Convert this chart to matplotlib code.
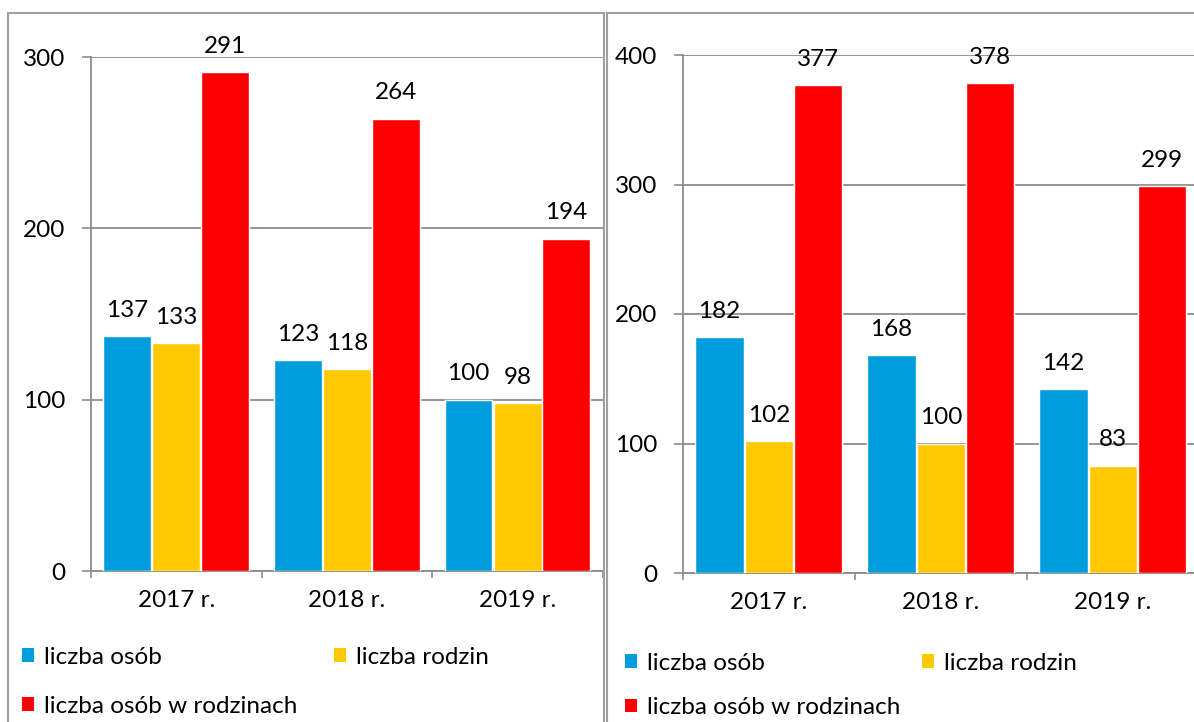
import matplotlib
matplotlib.use("Agg")
import matplotlib.pyplot as plt
from matplotlib.lines import Line2D
from matplotlib.patches import Patch
import numpy as np

plt.rcParams['font.family'] = ['Lato', 'DejaVu Sans']

# data
years = ['2017 r.', '2018 r.', '2019 r.']
series_names = ['liczba osób', 'liczba rodzin', 'liczba osób w rodzinach']
colors = ['#009ddc', '#ffc800', '#ff0000']

left_osob = [137, 123, 100]
left_rodzin = [133, 118, 98]
left_w_rodzinach = [291, 264, 194]

right_osob = [182, 168, 142]
right_rodzin = [102, 100, 83]
right_w_rodzinach = [377, 378, 299]

W, H = 1194, 722
fig = plt.figure(figsize=(W / 100, H / 100), dpi=100)

def px(x0, y0, x1, y1):
    # pixel box (top-left origin) -> figure fraction rect
    return [x0 / W, 1 - y1 / H, (x1 - x0) / W, (y1 - y0) / H]

GRID = '#8c8c8c'
FS = 17.5

def panel(rect, series, ymax):
    ax = fig.add_axes(rect)
    x = np.arange(len(years)) + 0.5
    offs = [-0.288, 0.0, 0.285]
    for vals, c, o in zip(series, colors, offs):
        b = ax.bar(x + o, vals, width=0.28, color=c, edgecolor='white',
                   linewidth=1.0, zorder=3)
        ax.bar_label(b, padding=11, fontsize=FS)
    ax.set_xlim(0, 3)
    ax.set_ylim(0, ymax)
    ax.set_yticks(np.arange(0, ymax + 1, 100))
    ax.set_xticks([0, 1, 2, 3])
    ax.set_xticklabels([])
    ax.set_xticks(x, minor=True)
    ax.set_xticklabels(years, minor=True, fontsize=FS)
    ax.tick_params(axis='x', which='major', length=5, width=1.2, color=GRID)
    ax.tick_params(axis='x', which='minor', length=0, pad=14)
    ax.tick_params(axis='y', length=6.5, width=1.2, color=GRID, pad=12, labelsize=FS)
    ax.grid(axis='y', color=GRID, linewidth=1.3, zorder=0)
    for s in ['top', 'right']:
        ax.spines[s].set_visible(False)
    for s in ['left', 'bottom']:
        ax.spines[s].set_color(GRID)
        ax.spines[s].set_linewidth(1.3)
    return ax

ax1 = panel(px(91, 57, 603, 571), [left_osob, left_rodzin, left_w_rodzinach], 300)
ax2 = panel(px(683, 55, 1199, 573), [right_osob, right_rodzin, right_w_rodzinach], 400)

# legends
handles = [Patch(facecolor=c) for c in colors]
order = [0, 2, 1]
for lx, ly, sp, cs in [(22, 647, 1.15, 1.5), (625, 653, 0.95, 0.9)]:
    fig.legend([handles[i] for i in order], [series_names[i] for i in order],
               loc='upper left', bbox_to_anchor=(lx / W, 1 - ly / H), ncol=2,
               frameon=False, fontsize=FS, handlelength=0.5, handleheight=0.5,
               handletextpad=0.4, columnspacing=cs, labelspacing=sp,
               borderpad=0, borderaxespad=0)

# panel frames
FRAME = '#a0a0a0'
def fline(x0, y0, x1, y1):
    fig.add_artist(Line2D([x0 / W, x1 / W], [1 - y0 / H, 1 - y1 / H],
                          color=FRAME, linewidth=1.5))

fline(8, 13, 604, 13)
fline(8, 13, 8, H)
fline(604, 13, 604, H)
fline(607, 13, W, 13)
fline(607, 13, 607, H)

fig.savefig('out.png', dpi=100)
